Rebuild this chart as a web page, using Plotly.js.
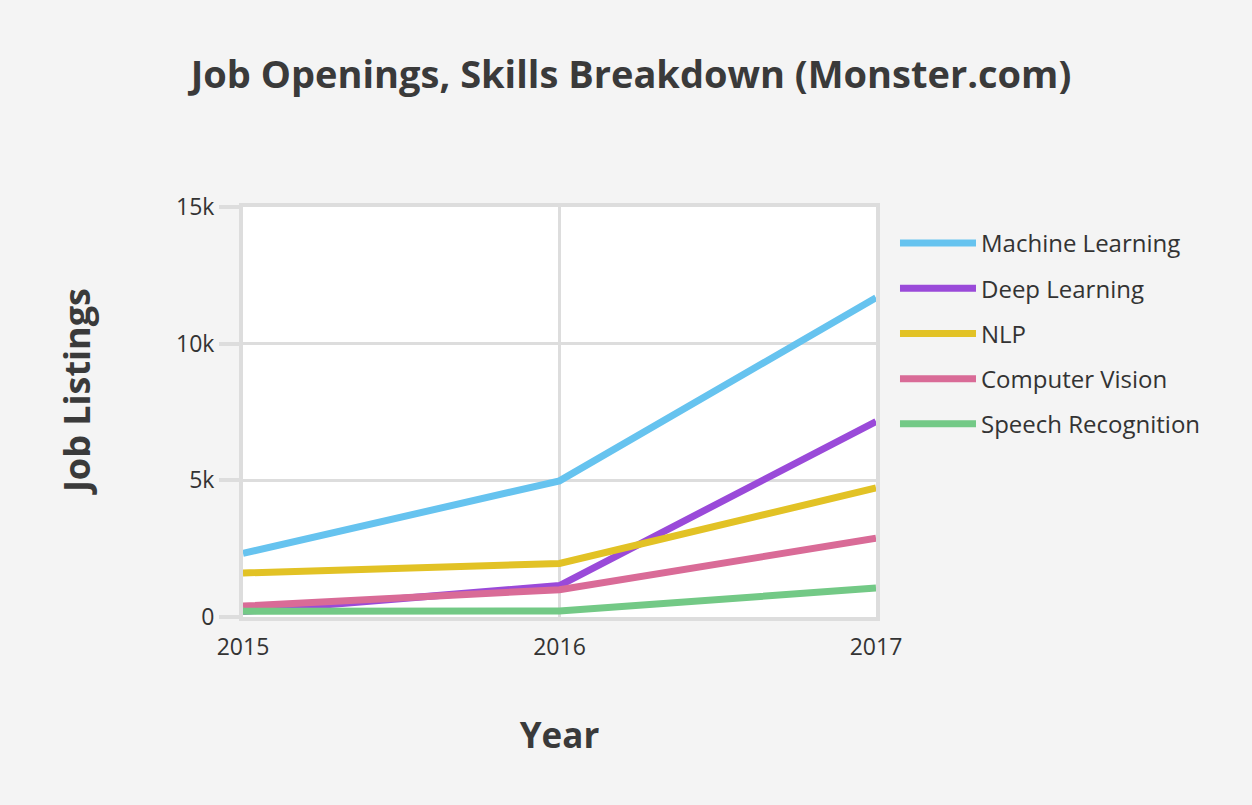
<!DOCTYPE html>
<html>
<head>
<meta charset="utf-8">
<script src="https://cdn.plot.ly/plotly-3.0.1.min.js"></script>
<style>html,body{margin:0;padding:0;background:#f4f4f4;}</style>
</head>
<body>
<div id="chart" style="width:1252px;height:805px;"></div>
<script>
const years = [2015, 2016, 2017];
const seriesNames = ["Machine Learning", "Deep Learning", "NLP", "Computer Vision", "Speech Recognition"];
const machineLearning = [2330, 4980, 11680];
const deepLearning = [200, 1150, 7150];
const nlp = [1610, 1960, 4720];
const computerVision = [400, 1000, 2880];
const speechRecognition = [210, 220, 1060];
const colors = ["#66c3ef", "#9a4ad9", "#e2c225", "#d96b97", "#73c986"];
const yTickVals = [0, 5000, 10000, 15000];
const yTickText = ["0", "5k", "10k", "15k"];
const yTitle = "Job Listings";

const seriesData = [machineLearning, deepLearning, nlp, computerVision, speechRecognition];
const FONT = "Open Sans, sans-serif";
const traces = seriesNames.map((name, i) => ({
  x: years, y: seriesData[i], name: name, type: "scatter", mode: "lines",
  legendgroup: "g" + i,
  line: {color: colors[i], width: 7}
}));

const layout = {
  width: 1252, height: 805,
  paper_bgcolor: "#f4f4f4", plot_bgcolor: "#ffffff",
  margin: {l: 243, r: 376, t: 207, b: 188},
  font: {family: FONT, color: "#333", size: 23},
  title: {text: "<b>Job Openings, Skills Breakdown (Monster.com)</b>", x: 0.504, xanchor: "center", y: 0.907, yanchor: "middle",
          font: {family: FONT, size: 38, color: "#3a3a3a"}},
  xaxis: {
    range: [2015, 2017], tickvals: years, ticktext: years.map(String),
    showgrid: true, gridcolor: "#dddddd", gridwidth: 3,
    showline: true, linecolor: "#dddddd", linewidth: 4, mirror: true,
    ticks: "outside", ticklen: 6, tickcolor: "rgba(0,0,0,0)",
    zeroline: false,
    tickfont: {size: 23, color: "#333"},
    title: {text: "<b>Year</b>", font: {size: 35, color: "#3a3a3a"}, standoff: 64}
  },
  yaxis: {
    range: [0, 15000], tickvals: yTickVals, ticktext: yTickText,
    showgrid: true, gridcolor: "#dddddd", gridwidth: 3,
    showline: true, linecolor: "#dddddd", linewidth: 4, mirror: true,
    ticks: "outside", ticklen: 20, tickwidth: 4, tickcolor: "#dddddd",
    zeroline: false,
    tickfont: {size: 23, color: "#333"}
  },
  annotations: [{
    text: "<b>" + yTitle + "</b>", textangle: -90,
    xref: "paper", yref: "paper", x: -0.262, y: 0.549,
    xanchor: "center", yanchor: "middle", showarrow: false,
    font: {family: FONT, size: 36, color: "#3a3a3a"}
  }],
  legend: {
    x: 1.03, xanchor: "left", y: 0.966, yanchor: "top",
    font: {size: 24, color: "#333"},
    bgcolor: "rgba(0,0,0,0)",
    traceorder: "grouped", tracegroupgap: 11,
    itemwidth: 76
  },
  showlegend: true
};

Plotly.newPlot("chart", traces, layout, {displayModeBar: false, staticPlot: true});
</script>
</body>
</html>
